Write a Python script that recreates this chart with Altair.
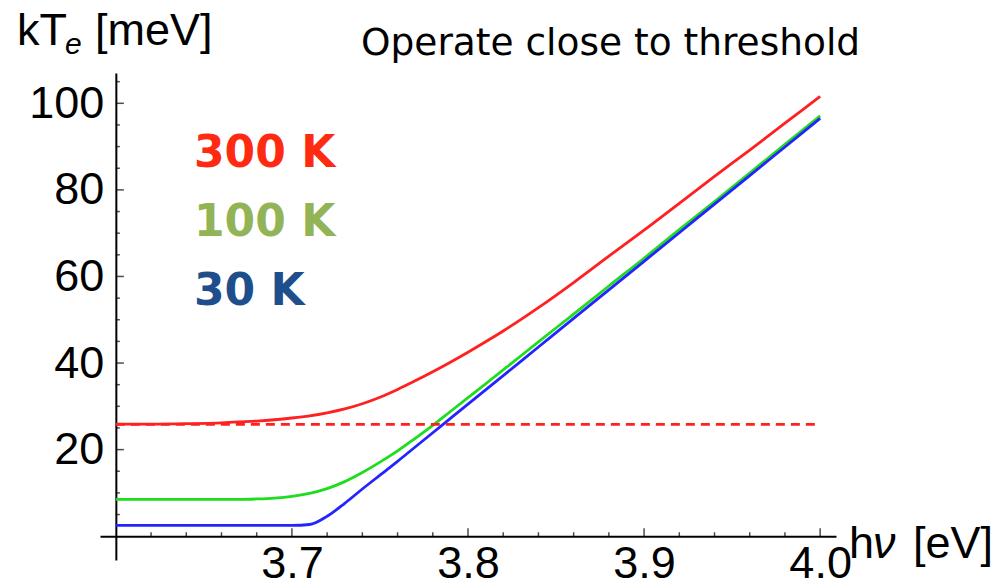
import altair as alt
import pandas as pd

# Photon energy grid (eV) and electron temperature kT_e (meV) for three lattice temperatures
hv = [3.60, 3.62, 3.64, 3.66, 3.67, 3.68, 3.69, 3.70, 3.71, 3.72, 3.73, 3.74, 3.75,
      3.76, 3.77, 3.78, 3.79, 3.80, 3.81, 3.82, 3.84, 3.86, 3.88, 3.90, 3.92, 3.94,
      3.96, 3.98, 4.00]
kte_300k = [25.9, 25.9, 26.0, 26.2, 26.4, 26.6, 26.9, 27.3, 27.8, 28.5, 29.4, 30.6, 32.1,
            33.9, 35.9, 38.0, 40.2, 42.5, 44.9, 47.4, 52.8, 58.6, 64.7, 70.7, 76.9, 83.1,
            89.2, 95.4, 101.6]
kte_100k = [8.5, 8.5, 8.5, 8.5, 8.5, 8.6, 8.8, 9.2, 9.9, 11.0, 12.6, 14.7, 17.1,
            19.7, 22.6, 25.6, 28.8, 32.0, 35.2, 38.4, 44.9, 51.3, 57.8, 64.2, 70.8, 77.3,
            83.9, 90.5, 97.1]
kte_30k = [2.5, 2.5, 2.5, 2.5, 2.5, 2.5, 2.5, 2.5, 2.7, 4.6, 7.6, 10.9, 14.1,
           17.3, 20.6, 23.9, 27.2, 30.5, 33.8, 37.1, 43.7, 50.3, 56.9, 63.5, 70.1, 76.7,
           83.3, 89.9, 96.5]

series_names = ["300 K", "100 K", "30 K"]
line_colors = ["#ff2020", "#1fdc1f", "#2424ff"]
label_colors = ["#ff2a12", "#92b456", "#1f4e8c"]

kt_300k = 25.85           # kT at 300 K, meV (dashed reference)
kt_span = [3.60, 4.00]

x_major = [3.7, 3.8, 3.9, 4.0]
x_minor = [3.62, 3.64, 3.66, 3.68, 3.72, 3.74, 3.76, 3.78, 3.82, 3.84, 3.86,
           3.88, 3.92, 3.94, 3.96, 3.98]
y_major = [20, 40, 60, 80, 100]
y_minor = [5, 10, 15, 25, 30, 35, 45, 50, 55, 65, 70, 75, 85, 90, 95, 105]

title_text = "Operate close to threshold"
y_label_parts = ["kT", "e", "[meV]"]
x_label_parts = ["h", "ν", "[eV]"]

# ---- layout of the plot area ----
W, H = 736, 487
x_dom = [3.591, 4.009]
y_dom = [-5.5, 107.0]
x_origin, y_origin = 3.6, 0.0
x_axis_shift = -(y_origin - y_dom[0]) / (y_dom[1] - y_dom[0]) * H
y_axis_shift = -(x_origin - x_dom[0]) / (x_dom[1] - x_dom[0]) * W

xs = alt.Scale(domain=x_dom, nice=False, zero=False)
ys = alt.Scale(domain=y_dom, nice=False, zero=False)

AX_FONT = "Liberation Sans"

# one axis definition shared by every layer so the layers merge cleanly
x_axis = alt.Axis(values=x_major, format=".1f", title=None, grid=False,
                  ticks=False, domainColor="black", domainWidth=2,
                  labelFont=AX_FONT, labelFontSize=45, labelColor="black",
                  labelPadding=5, labelFlush=False, labelOverlap=False,
                  offset=x_axis_shift)
y_axis = alt.Axis(values=y_major, title=None, grid=False, ticks=False,
                  domainColor="black", domainWidth=2,
                  labelFont=AX_FONT, labelFontSize=45, labelColor="black",
                  labelPadding=12, labelFlush=False, labelOverlap=False,
                  offset=y_axis_shift)

rows = []
for name, vals in zip(series_names, [kte_300k, kte_100k, kte_30k]):
    for x, v in zip(hv, vals):
        rows.append({"hv": x, "kte": v, "T": name})
curves = pd.DataFrame(rows)

lines = alt.Chart(curves).mark_line(strokeWidth=2.8, interpolate="monotone").encode(
    x=alt.X("hv:Q", scale=xs, axis=x_axis),
    y=alt.Y("kte:Q", scale=ys, axis=y_axis),
    color=alt.Color("T:N", scale=alt.Scale(domain=series_names, range=line_colors),
                    legend=None),
    order=alt.Order("hv:Q"),
)

dashed = alt.Chart(pd.DataFrame({"hv": kt_span, "kte": [kt_300k, kt_300k]})).mark_line(
    color=line_colors[0], strokeWidth=2.8, strokeDash=[9, 6]
).encode(
    x=alt.X("hv:Q", scale=xs, axis=x_axis),
    y=alt.Y("kte:Q", scale=ys, axis=y_axis),
)


def x_ticks(vals, size):
    return alt.Chart(pd.DataFrame({"hv": vals})).mark_tick(
        orient="vertical", size=size, thickness=1.5, color="black", yOffset=-size / 2
    ).encode(x=alt.X("hv:Q", scale=xs, axis=x_axis),
             y=alt.YDatum(y_origin, scale=ys, axis=y_axis))


def y_ticks(vals, size):
    return alt.Chart(pd.DataFrame({"kte": vals})).mark_tick(
        orient="horizontal", size=size, thickness=1.5, color="black", xOffset=size / 2
    ).encode(y=alt.Y("kte:Q", scale=ys, axis=y_axis),
             x=alt.XDatum(x_origin, scale=xs, axis=x_axis))


def label(text, x, y, size, font=AX_FONT, color="black", weight="normal", style="normal"):
    return alt.Chart(pd.DataFrame({"t": [text]})).mark_text(
        align="left", baseline="alphabetic", font=font, fontSize=size,
        color=color, fontWeight=weight, fontStyle=style
    ).encode(x=alt.value(x), y=alt.value(y), text="t:N")


texts = [
    label(title_text, 261, -18, 37.5, font="DejaVu Sans"),
    label(y_label_parts[0], -83, -28, 45),
    label(y_label_parts[1], -35, -19, 30, style="italic"),
    label(y_label_parts[2], -5, -28, 45),
    label(x_label_parts[0], 749, 485, 45),
    label(x_label_parts[1], 773, 485, 45, style="italic"),
    label(x_label_parts[2], 813, 485, 45),
]
for i, (name, col) in enumerate(zip(series_names, label_colors)):
    texts.append(label(name, 94, 94 + 69 * i, 44, font="DejaVu Sans", color=col,
                       weight="bold"))

chart = alt.layer(
    lines, dashed,
    x_ticks(x_major, 8), x_ticks(x_minor, 4),
    y_ticks(y_major, 8), y_ticks(y_minor, 4),
    *texts,
).properties(
    width=W, height=H, autosize="none",
    padding={"left": 100, "top": 73, "right": 169, "bottom": 27},
    background="white",
).configure_view(stroke=None)

chart.save("out.html", embed_options={"renderer": "svg", "actions": False})
